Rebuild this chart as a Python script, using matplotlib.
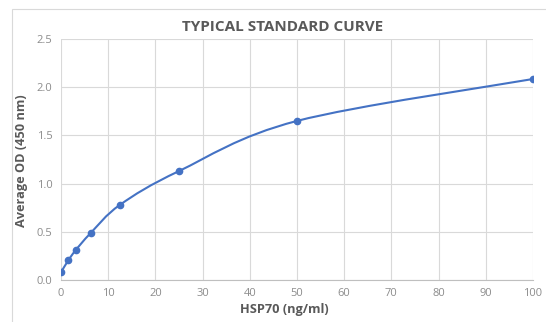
import matplotlib
matplotlib.use("Agg")
import matplotlib.pyplot as plt
import numpy as np
from matplotlib.path import Path
from matplotlib.patches import PathPatch, Rectangle

conc = [0, 1.56, 3.125, 6.25, 12.5, 25, 50, 100]
od = [0.08, 0.205, 0.31, 0.485, 0.78, 1.13, 1.65, 2.085]
xticks = [0, 10, 20, 30, 40, 50, 60, 70, 80, 90, 100]
yticks = [0.0, 0.5, 1.0, 1.5, 2.0, 2.5]

W, H = 546, 322
fig = plt.figure(figsize=(W/100, H/100), dpi=100)
ax = fig.add_axes([61/W, 1-280/H, (533-61)/W, (280-39)/H])

blue = "#4472C4"
# smooth (Excel-like Catmull-Rom bezier) line built from data points
pts = np.column_stack([conc, od]).astype(float)
ext = np.vstack([pts[0], pts, pts[-1]])
verts = [tuple(pts[0])]
codes = [Path.MOVETO]
for i in range(len(pts) - 1):
    p0, p1, p2, p3 = ext[i], ext[i+1], ext[i+2], ext[i+3]
    c1 = p1 + (p2 - p0) / 6
    c2 = p2 - (p3 - p1) / 6
    verts += [tuple(c1), tuple(c2), tuple(p2)]
    codes += [Path.CURVE4] * 3
ax.add_patch(PathPatch(Path(verts, codes), fill=False, edgecolor=blue, lw=1.5, zorder=3))
ax.plot(conc, od, 'o', color=blue, ms=4.5, zorder=4)

ax.set_xlim(0, 100)
ax.set_ylim(0, 2.5)
ax.set_xticks(xticks)
ax.set_yticks(yticks)
ax.set_xticklabels([str(t) for t in xticks])
ax.set_yticklabels([f"{t:.1f}" for t in yticks])
ax.grid(True, color="#d9d9d9", lw=0.8)
ax.set_axisbelow(True)
for s in ["top", "right", "left"]:
    ax.spines[s].set_visible(False)
ax.spines["bottom"].set_color("#bfbfbf")
ax.tick_params(length=0, colors="#8c8c8c", labelsize=8, pad=6)
for lab in ax.get_xticklabels() + ax.get_yticklabels():
    lab.set_family("Open Sans")

fig.text(284/W, 1-310/H, "HSP70 (ng/ml)", ha="center", va="center", fontsize=9.2,
         fontweight="bold", color="#595959", family="Open Sans")
fig.text(22/W, 1-161/H, "Average OD (450 nm)", ha="center", va="center", rotation=90,
         fontsize=9.2, fontweight="bold", color="#595959", family="Open Sans")
fig.text(283/W, 1-27/H, "TYPICAL STANDARD CURVE", ha="center", va="center",
         fontsize=11, fontweight="bold", color="#595959", family="Open Sans")

fig.patches.append(Rectangle((12/W, -0.1), 1.2, 1-9/H+0.1, transform=fig.transFigure,
                             fill=False, edgecolor="#d9d9d9", lw=0.8))
fig.savefig("out.png", dpi=100)
